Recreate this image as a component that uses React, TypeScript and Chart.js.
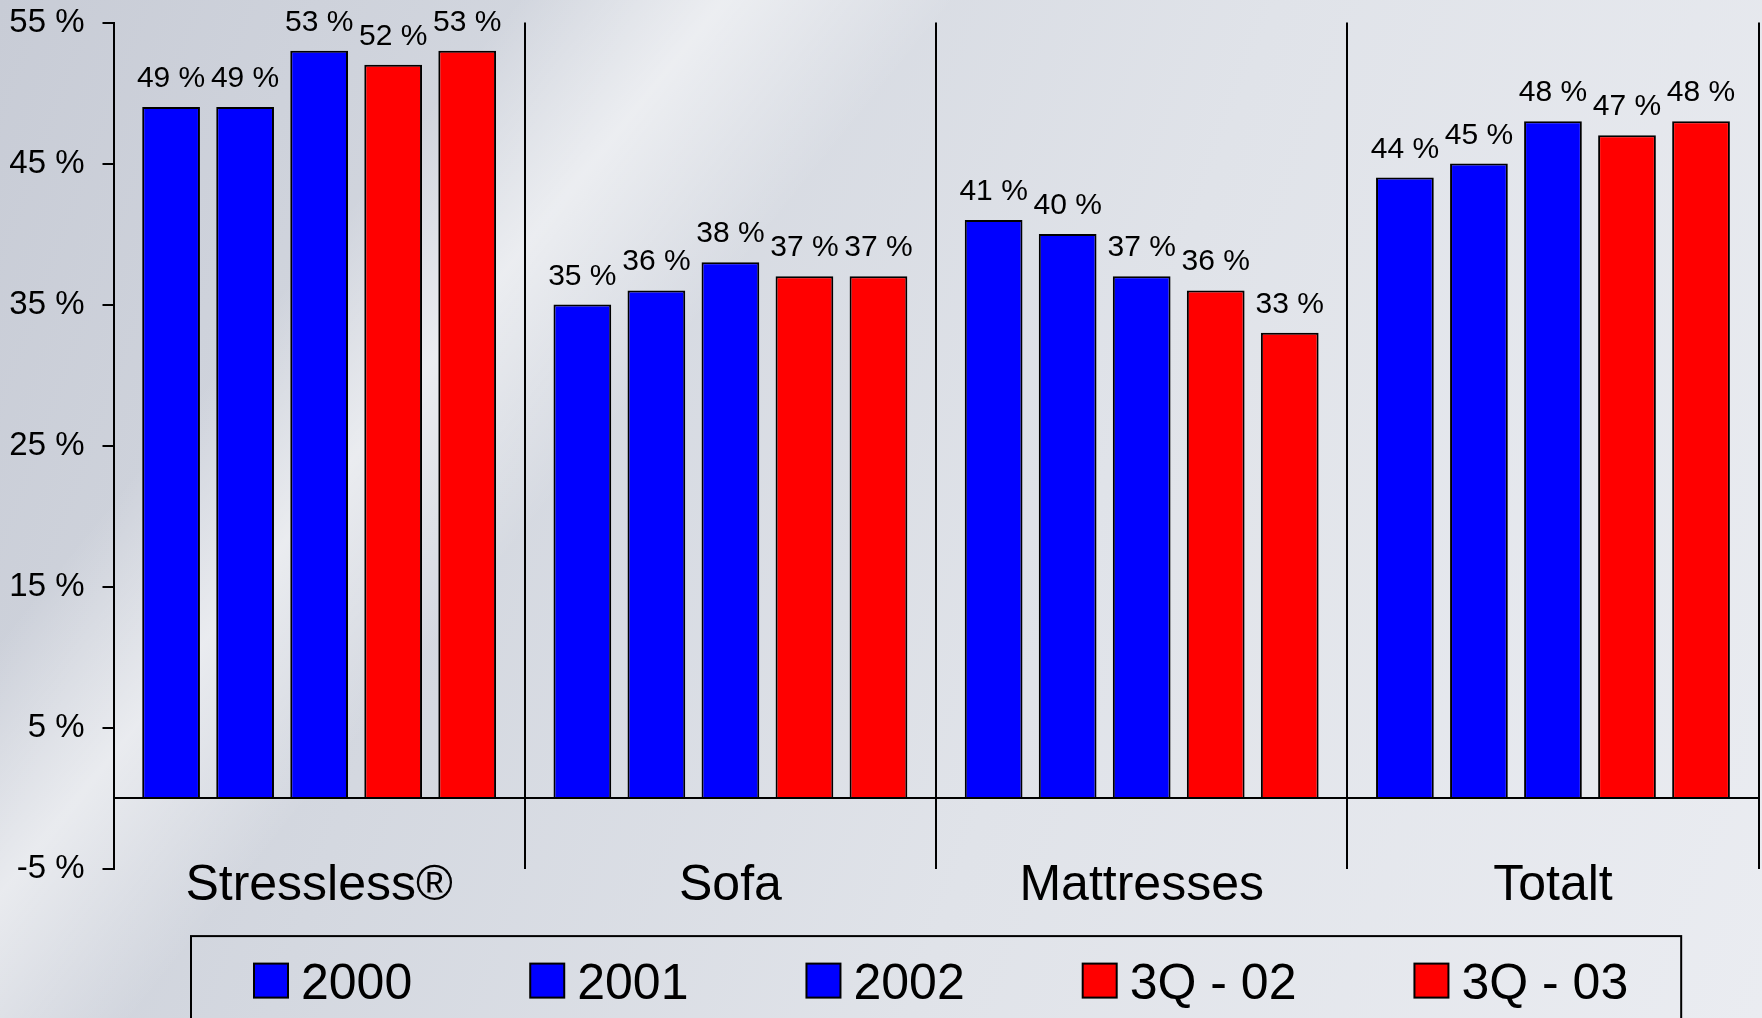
import React, { useEffect, useRef } from "react";
import { Chart, registerables } from "chart.js";

Chart.register(...registerables);

const categories = ["Stressless®", "Sofa", "Mattresses", "Totalt"];
const seriesLabels = ["2000", "2001", "2002", "3Q - 02", "3Q - 03"];
const values2000 = [49, 35, 41, 44];
const values2001 = [49, 36, 40, 45];
const values2002 = [53, 38, 37, 48];
const values3Q02 = [52, 37, 36, 47];
const values3Q03 = [53, 37, 33, 48];
const seriesColors = ["#0000FF", "#0000FF", "#0000FF", "#FF0000", "#FF0000"];
const yTicks = [-5, 5, 15, 25, 35, 45, 55];

const FONT = "'Liberation Sans', Arial, Helvetica, sans-serif";
const W = 1762;
const H = 1018;

const zeroLinePlugin = {
  id: "zeroLine",
  afterDatasetsDraw(chart: any) {
    const { ctx, chartArea, scales } = chart;
    const y = scales.y.getPixelForValue(0);
    ctx.save();
    ctx.strokeStyle = "#000";
    ctx.lineWidth = 2;
    ctx.beginPath();
    ctx.moveTo(chartArea.left, y);
    ctx.lineTo(chartArea.right, y);
    ctx.stroke();
    ctx.restore();
  },
};

const valueLabelPlugin = {
  id: "valueLabels",
  afterDatasetsDraw(chart: any) {
    const { ctx } = chart;
    ctx.save();
    ctx.fillStyle = "#000";
    ctx.font = `30px ${FONT}`;
    ctx.textAlign = "center";
    ctx.textBaseline = "alphabetic";
    chart.data.datasets.forEach((ds: any, i: number) => {
      const meta = chart.getDatasetMeta(i);
      meta.data.forEach((el: any, j: number) => {
        ctx.fillText(`${ds.data[j]} %`, el.x, el.y - 20);
      });
    });
    ctx.restore();
  },
};

const legendPlugin = {
  id: "customLegend",
  afterDraw(chart: any) {
    const { ctx, chartArea } = chart;
    const datasets = chart.data.datasets;
    const box = 34;
    const gapText = 13;
    const gapItem = 118;
    ctx.save();
    ctx.font = `50px ${FONT}`;
    const widths = datasets.map((d: any) => box + gapText + ctx.measureText(d.label).width);
    const total = widths.reduce((a: number, b: number) => a + b, 0) + gapItem * (datasets.length - 1);
    let x = chartArea.left + 140.5;
    const cy = chartArea.bottom + 112;
    const frameTop = chartArea.bottom + 67.5;
    ctx.strokeStyle = "#000";
    ctx.lineWidth = 2;
    ctx.strokeRect(x - 63, frameTop, total + 116, 140);
    datasets.forEach((d: any, i: number) => {
      ctx.fillStyle = d.backgroundColor;
      ctx.fillRect(x, cy - box / 2, box, box);
      ctx.strokeStyle = "#000";
      ctx.lineWidth = 2;
      ctx.strokeRect(x, cy - box / 2, box, box);
      ctx.fillStyle = "#000";
      ctx.textAlign = "left";
      ctx.textBaseline = "alphabetic";
      ctx.fillText(d.label, x + box + gapText, cy + 18);
      x += widths[i] + gapItem;
    });
    ctx.restore();
  },
};

export default function App() {
  const canvasRef = useRef<HTMLCanvasElement | null>(null);

  useEffect(() => {
    if (!canvasRef.current) return;
    const seriesValues = [values2000, values2001, values2002, values3Q02, values3Q03];
    const chart = new Chart(canvasRef.current, {
      type: "bar",
      data: {
        labels: categories,
        datasets: seriesLabels.map((label, i) => ({
          label,
          data: seriesValues[i],
          backgroundColor: seriesColors[i],
          borderColor: "#000",
          borderWidth: 2,
          categoryPercentage: 0.9,
          barPercentage: 0.78,
        })),
      },
      options: {
        responsive: false,
        animation: false,
        devicePixelRatio: 1,
        layout: { padding: { top: 22.5, right: 3.4, bottom: 89.4, left: 0 } },
        plugins: {
          legend: { display: false },
          tooltip: { enabled: false },
        },
        scales: {
          x: {
            grid: {
              display: true,
              drawOnChartArea: true,
              drawTicks: false,
              color: "#000",
              lineWidth: 2,
              offset: true,
            },
            border: { display: false },
            afterFit: (s: any) => {
              s.height = 60;
              s.paddingLeft = 0;
              s.paddingRight = 0;
            },
            ticks: {
              mirror: true,
              padding: -48,
              color: "#000",
              font: { size: 50, family: FONT },
              maxRotation: 0,
              minRotation: 0,
              autoSkip: false,
            },
          },
          y: {
            min: -5,
            max: 55,
            afterBuildTicks: (s: any) => {
              s.ticks = yTicks.map((value) => ({ value }));
            },
            afterFit: (s: any) => {
              s.width = 113.5;
              s.paddingTop = 0;
              s.paddingBottom = 0;
            },
            grid: {
              drawOnChartArea: false,
              drawTicks: true,
              tickLength: 11,
              color: "#000",
              lineWidth: 2,
            },
            border: { display: true, color: "#000", width: 2 },
            ticks: {
              padding: 18,
              color: "#000",
              font: { size: 33, family: FONT },
              callback: (v: any) => `${v} %`,
            },
          },
        },
      },
      plugins: [zeroLinePlugin, valueLabelPlugin, legendPlugin],
    });
    return () => chart.destroy();
  }, []);

  return (
    <div
      style={{
        position: "fixed",
        left: 0,
        top: 0,
        width: W,
        height: H,
        overflow: "hidden",
        background:
          "linear-gradient(129deg, rgba(255,255,255,0) 0%, rgba(255,255,255,0) 20%, rgba(255,255,255,0.55) 28%, rgba(255,255,255,0) 37%, rgba(255,255,255,0) 100%), linear-gradient(110deg, #c8ccd6 0%, #d4d8e0 30%, #e0e3e9 60%, #eaecf1 100%)",
      }}
    >
      <canvas ref={canvasRef} width={W} height={H} style={{ display: "block" }} />
    </div>
  );
}
